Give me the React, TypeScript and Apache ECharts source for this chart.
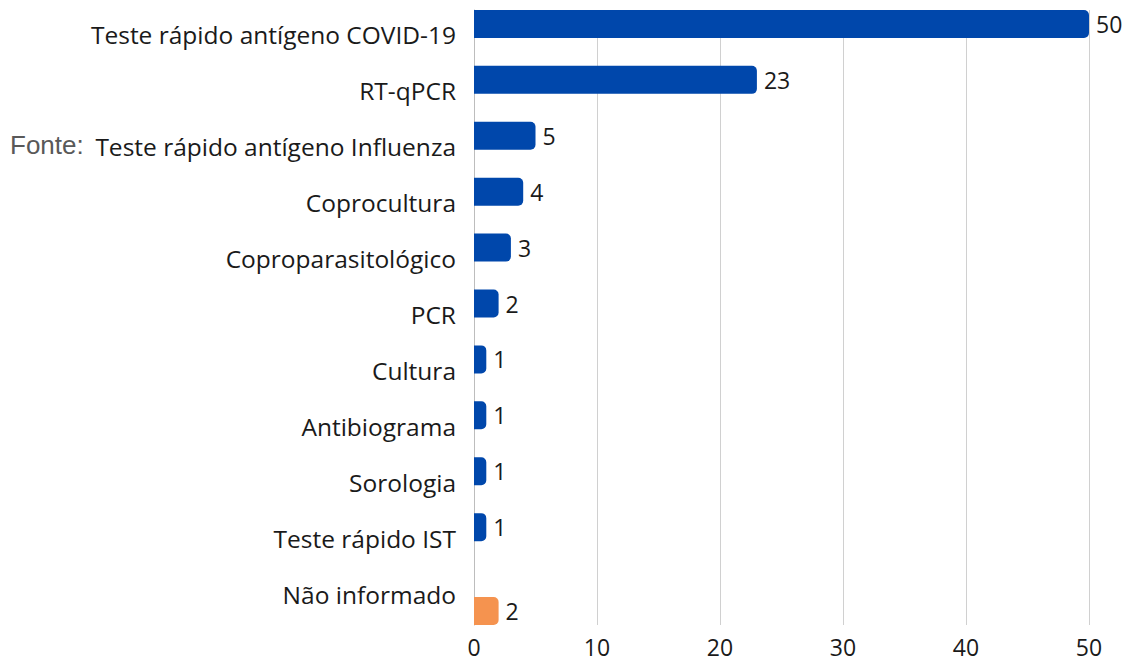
import React, { useEffect, useRef } from "react";
import * as echarts from "echarts";

const categories = [
  "Teste rápido antígeno COVID-19",
  "RT-qPCR",
  "Teste rápido antígeno Influenza",
  "Coprocultura",
  "Coproparasitológico",
  "PCR",
  "Cultura",
  "Antibiograma",
  "Sorologia",
  "Teste rápido IST",
  "Não informado",
];
const values = [50, 23, 5, 4, 3, 2, 1, 1, 1, 1, 2];
const xTicks = { min: 0, max: 50, interval: 10 };
const sourceLabel = "Fonte:";

const FONT = "'Open Sans', 'Noto Sans', sans-serif";

export default function App() {
  const ref = useRef<HTMLDivElement>(null);
  useEffect(() => {
    if (!ref.current) return;
    const chart = echarts.init(ref.current, null, { renderer: "svg" });
    const last = categories.length - 1;
    const blue = values.map((v, i) => (i === last ? null : v));
    const orange = values.map((v, i) => (i === last ? v : null));
    const label = {
      show: true,
      position: "right",
      distance: 7,
      fontFamily: FONT,
      fontSize: 23,
      color: "#1a1a1a",
    };
    chart.setOption({
      animation: false,
      grid: { left: 474, right: 37, top: 10, bottom: 37, containLabel: false },
      xAxis: {
        type: "value",
        min: xTicks.min,
        max: xTicks.max,
        interval: xTicks.interval,
        axisLine: { show: false },
        axisTick: { show: false },
        splitLine: { lineStyle: { color: "#d0d0d0", width: 1 } },
        axisLabel: { fontFamily: FONT, fontSize: 23, color: "#1a1a1a", margin: 10 },
      },
      yAxis: {
        type: "category",
        data: categories,
        inverse: true,
        axisLine: { show: true, lineStyle: { color: "#bdbdbd", width: 1 } },
        axisTick: { show: false },
        axisLabel: {
          fontFamily: FONT,
          fontSize: 24.5,
          color: "#1a1a1a",
          margin: 18,
          formatter: (v: string) => `{a|${v}}`,
          rich: {
            a: {
              fontFamily: FONT,
              fontSize: 24.5,
              color: "#1a1a1a",
              padding: [0, 0, 6, 0],
            },
          },
        },
      },
      series: [
        {
          type: "bar",
          data: blue,
          barWidth: 28,
          barGap: "0%",
          itemStyle: { color: "#0047ab", borderRadius: [0, 5, 5, 0] },
          label,
        },
        {
          type: "bar",
          data: orange,
          barWidth: 28,
          barGap: "0%",
          itemStyle: { color: "#f5934f", borderRadius: [0, 5, 5, 0] },
          label,
        },
      ],
      graphic: [
        {
          type: "text",
          left: 10,
          top: 132,
          style: {
            text: sourceLabel,
            fontFamily: "'Liberation Sans', Arial, sans-serif",
            fontSize: 26,
            fill: "#595959",
          },
        },
      ],
    });
    return () => chart.dispose();
  }, []);
  return <div ref={ref} style={{ width: 1126, height: 662, position: "absolute", left: 0, top: 0 }} />;
}
